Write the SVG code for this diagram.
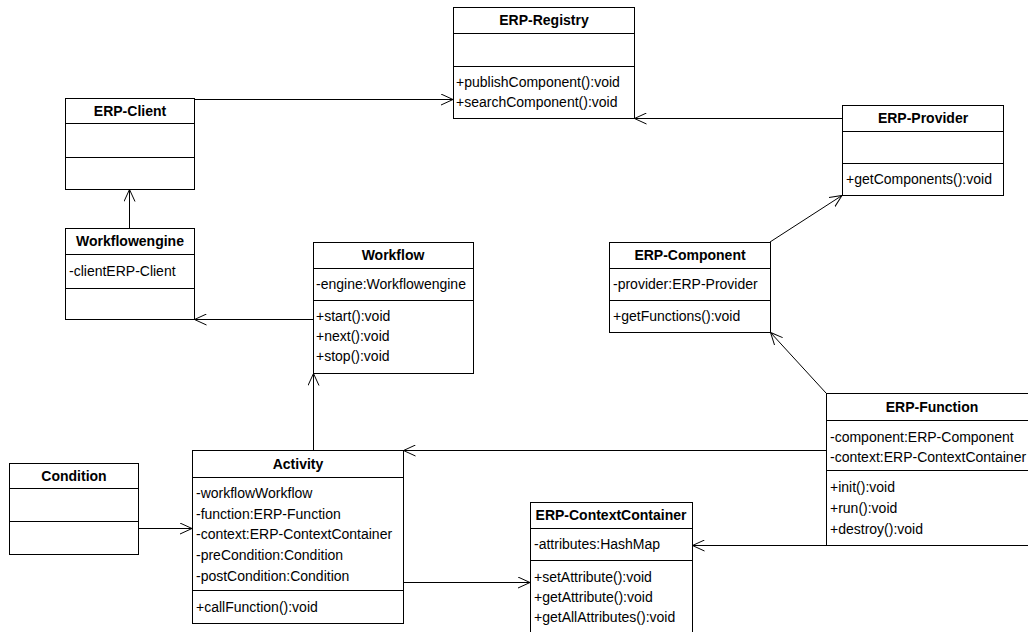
<svg xmlns="http://www.w3.org/2000/svg" width="1028" height="632" viewBox="0 0 1028 632">
<defs>
<style>
.box{fill:#fff;stroke:#000;stroke-width:1}
.sep{stroke:#000;stroke-width:1}
.t{font-family:"Liberation Sans",Arial,sans-serif;font-size:14px;font-weight:bold;text-anchor:middle;fill:#000}
.a{font-family:"Liberation Sans",Arial,sans-serif;font-size:14px;fill:#000}
.c{fill:none;stroke:#000;stroke-width:1;marker-end:url(#arr)}
</style>
<marker id="arr" viewBox="0 0 12 12" refX="12" refY="6" markerWidth="12" markerHeight="12" orient="auto" markerUnits="userSpaceOnUse">
<path d="M0,0.5 L12,6 L0,11.5" fill="none" stroke="#000" stroke-width="1"/>
</marker>
</defs>
<rect width="1028" height="632" fill="#fff"/>
<g id="connectors">
<path class="c" d="M194.5,99.5 L453,99.5"/>
<path class="c" d="M842,118.5 L634.5,118.5"/>
<path class="c" d="M129.5,228 L129.5,189.5"/>
<path class="c" d="M313,319.5 L194.5,319.5"/>
<path class="c" d="M313.5,450 L313.5,373.5"/>
<path class="c" d="M770,242 L842,195.5"/>
<path class="c" d="M826,393 L770.5,332.5"/>
<path class="c" d="M826,450.5 L403.5,450.5"/>
<path class="c" d="M826,545.5 L692.5,545.5"/>
<path class="c" d="M403.5,582.5 L530,582.5"/>
<path class="c" d="M138.5,528.5 L192,528.5"/>
</g>
<g id="erp-registry">
<rect class="box" x="453.5" y="7.5" width="181" height="111"/>
<line class="sep" x1="453.5" y1="33.5" x2="634.5" y2="33.5"/>
<line class="sep" x1="453.5" y1="66.5" x2="634.5" y2="66.5"/>
<text class="t" x="544" y="25">ERP-Registry</text>
<text class="a" x="456" y="87">+publishComponent():void</text>
<text class="a" x="456" y="107">+searchComponent():void</text>
</g>
<g id="erp-client">
<rect class="box" x="65.5" y="98.5" width="129" height="91"/>
<line class="sep" x1="65.5" y1="123.5" x2="194.5" y2="123.5"/>
<line class="sep" x1="65.5" y1="157.5" x2="194.5" y2="157.5"/>
<text class="t" x="130" y="116">ERP-Client</text>
</g>
<g id="workflowengine">
<rect class="box" x="65.5" y="228.5" width="129" height="91"/>
<line class="sep" x1="65.5" y1="254.5" x2="194.5" y2="254.5"/>
<line class="sep" x1="65.5" y1="288.5" x2="194.5" y2="288.5"/>
<text class="t" x="130" y="246">Workflowengine</text>
<text class="a" x="69" y="276">-clientERP-Client</text>
</g>
<g id="workflow">
<rect class="box" x="313.5" y="242.5" width="160" height="131"/>
<line class="sep" x1="313.5" y1="268.5" x2="473.5" y2="268.5"/>
<line class="sep" x1="313.5" y1="300.5" x2="473.5" y2="300.5"/>
<text class="t" x="393" y="260">Workflow</text>
<text class="a" x="316" y="289">-engine:Workflowengine</text>
<text class="a" x="316" y="321">+start():void</text>
<text class="a" x="316" y="341">+next():void</text>
<text class="a" x="316" y="361">+stop():void</text>
</g>
<g id="erp-provider">
<rect class="box" x="842.5" y="105.5" width="161" height="90"/>
<line class="sep" x1="842.5" y1="131.5" x2="1003.5" y2="131.5"/>
<line class="sep" x1="842.5" y1="163.5" x2="1003.5" y2="163.5"/>
<text class="t" x="923" y="123">ERP-Provider</text>
<text class="a" x="846" y="184">+getComponents():void</text>
</g>
<g id="erp-component">
<rect class="box" x="609.5" y="242.5" width="161" height="90"/>
<line class="sep" x1="609.5" y1="268.5" x2="770.5" y2="268.5"/>
<line class="sep" x1="609.5" y1="300.5" x2="770.5" y2="300.5"/>
<text class="t" x="690" y="260">ERP-Component</text>
<text class="a" x="613" y="289">-provider:ERP-Provider</text>
<text class="a" x="613" y="321">+getFunctions():void</text>
</g>
<g id="erp-function">
<rect class="box" x="826.5" y="393.5" width="212" height="152"/>
<line class="sep" x1="826.5" y1="420.5" x2="1038.5" y2="420.5"/>
<line class="sep" x1="826.5" y1="470.5" x2="1038.5" y2="470.5"/>
<text class="t" x="932" y="412">ERP-Function</text>
<text class="a" x="830" y="442">-component:ERP-Component</text>
<text class="a" x="830" y="462">-context:ERP-ContextContainer</text>
<text class="a" x="830" y="492">+init():void</text>
<text class="a" x="830" y="513">+run():void</text>
<text class="a" x="830" y="534">+destroy():void</text>
</g>
<g id="activity">
<rect class="box" x="192.5" y="450.5" width="211" height="173"/>
<line class="sep" x1="192.5" y1="477.5" x2="403.5" y2="477.5"/>
<line class="sep" x1="192.5" y1="590.5" x2="403.5" y2="590.5"/>
<text class="t" x="298" y="469">Activity</text>
<text class="a" x="196" y="498">-workflowWorkflow</text>
<text class="a" x="196" y="518.5">-function:ERP-Function</text>
<text class="a" x="196" y="539">-context:ERP-ContextContainer</text>
<text class="a" x="196" y="560">-preCondition:Condition</text>
<text class="a" x="196" y="580.5">-postCondition:Condition</text>
<text class="a" x="196" y="612">+callFunction():void</text>
</g>
<g id="condition">
<rect class="box" x="9.5" y="463.5" width="129" height="91"/>
<line class="sep" x1="9.5" y1="488.5" x2="138.5" y2="488.5"/>
<line class="sep" x1="9.5" y1="521.5" x2="138.5" y2="521.5"/>
<text class="t" x="74" y="481">Condition</text>
</g>
<g id="erp-contextcontainer">
<rect class="box" x="530.5" y="502.5" width="162" height="140"/>
<line class="sep" x1="530.5" y1="528.5" x2="692.5" y2="528.5"/>
<line class="sep" x1="530.5" y1="560.5" x2="692.5" y2="560.5"/>
<text class="t" x="611" y="520">ERP-ContextContainer</text>
<text class="a" x="534" y="549">-attributes:HashMap</text>
<text class="a" x="534" y="582">+setAttribute():void</text>
<text class="a" x="534" y="602">+getAttribute():void</text>
<text class="a" x="534" y="622">+getAllAttributes():void</text>
</g>
</svg>
